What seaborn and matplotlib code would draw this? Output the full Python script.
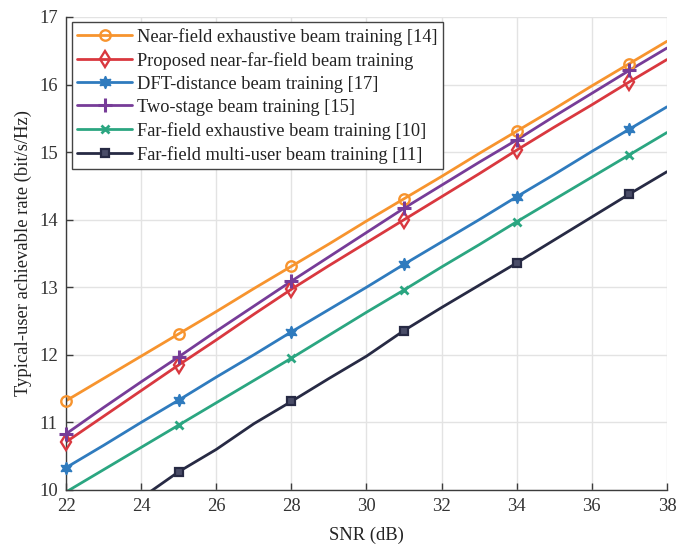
import numpy as np
import pandas as pd
import matplotlib
matplotlib.use("Agg")
import matplotlib.pyplot as plt
from matplotlib.lines import Line2D
import seaborn as sns

snr_db = list(range(22, 39))

near_field_exhaustive = [11.32, 11.65, 11.98, 12.31, 12.64, 12.98, 13.31, 13.64, 13.98,
                         14.31, 14.64, 14.98, 15.31, 15.64, 15.98, 16.31, 16.64]
proposed_near_far = [10.71, 11.09, 11.47, 11.85, 12.22, 12.60, 12.97, 13.32, 13.66,
                     14.00, 14.34, 14.68, 15.03, 15.37, 15.70, 16.04, 16.37]
dft_distance = [10.33, 10.66, 11.00, 11.33, 11.67, 12.00, 12.34, 12.67, 13.00,
                13.34, 13.67, 14.00, 14.34, 14.67, 15.01, 15.34, 15.67]
two_stage = [10.83, 11.22, 11.60, 11.97, 12.35, 12.72, 13.09, 13.45, 13.81,
             14.17, 14.51, 14.85, 15.18, 15.53, 15.87, 16.21, 16.54]
far_field_exhaustive = [9.97, 10.30, 10.63, 10.96, 11.29, 11.62, 11.95, 12.29, 12.63,
                        12.96, 13.30, 13.63, 13.97, 14.30, 14.63, 14.96, 15.29]
far_field_multiuser = [9.15, 9.50, 9.88, 10.27, 10.60, 10.98, 11.31, 11.65, 11.98,
                       12.36, 12.70, 13.03, 13.36, 13.70, 14.04, 14.38, 14.71]

labels = [
    "Near-field exhaustive beam training [14]",
    "Proposed near-far-field beam training",
    "DFT-distance beam training [17]",
    "Two-stage beam training [15]",
    "Far-field exhaustive beam training [10]",
    "Far-field multi-user beam training [11]",
]
series = [near_field_exhaustive, proposed_near_far, dft_distance,
          two_stage, far_field_exhaustive, far_field_multiuser]

colors = ["#F7942E", "#D9383F", "#2F7BBE", "#773C98", "#2BA681", "#272A44"]
styles = [
    dict(marker="o", markerfacecolor="none", markersize=7.5, markeredgewidth=1.7),
    dict(marker="d", markerfacecolor="none", markersize=8, markeredgewidth=1.7),
    dict(marker=(6, 1, 0), markersize=9, markeredgewidth=1.0),
    dict(marker="+", markersize=9.5, markeredgewidth=2.2),
    dict(marker="x", markersize=5.5, markeredgewidth=2.0),
    dict(marker="s", markersize=6, markeredgewidth=1.6, markerfacecolor="#4A4D68"),
]

Y_MIN, Y_MAX = 10, 17
FS = 13.4

sns.set_theme(style="whitegrid")
plt.rcParams["font.family"] = ["Liberation Serif", "DejaVu Serif"]

fig = plt.figure(figsize=(6.89, 5.44), dpi=100)
ax = fig.add_axes([0.0958, 0.0993, 0.8722, 0.8695])

handles = []
for lab, vals, col, st in zip(labels, series, colors, styles):
    df = pd.DataFrame({"SNR": snr_db, "rate": vals})
    # curve, clipped to the axes
    sns.lineplot(data=df, x="SNR", y="rate", ax=ax, color=col, linewidth=2.0,
                 legend=False)
    # markers every 3 dB, drawn unclipped so edge markers stay whole
    mk = df.iloc[::3]
    mk = mk[(mk["rate"] >= Y_MIN) & (mk["rate"] <= Y_MAX)]
    sns.lineplot(data=mk, x="SNR", y="rate", ax=ax, color=col, linestyle="none",
                 markeredgecolor=col, clip_on=False, legend=False, zorder=3, **st)
    handles.append(Line2D([], [], color=col, linewidth=2.0,
                          markeredgecolor=col, **st))

ax.set_xlim(22, 38)
ax.set_ylim(Y_MIN, Y_MAX)
ax.set_xticks(range(22, 39, 2))
ax.set_yticks(range(10, 18))
ax.grid(True, color="#E3E3E3", linewidth=1.0)
for side in ["top", "right"]:
    ax.spines[side].set_visible(False)
for side in ["left", "bottom"]:
    ax.spines[side].set_color("#3C3C3C")
    ax.spines[side].set_linewidth(1.0)
ax.tick_params(direction="in", length=5, width=1.0, color="#3C3C3C",
               labelsize=FS, labelcolor="#333333", left=True, bottom=True, pad=6)
ax.set_xlabel("SNR (dB)", fontsize=FS, color="#222222", labelpad=8)
ax.set_ylabel("Typical-user achievable rate (bit/s/Hz)", fontsize=FS,
              color="#222222", labelpad=5)

leg = ax.legend(handles=handles, labels=labels, loc="upper left", fontsize=13.2,
                frameon=True, fancybox=False, framealpha=1.0, edgecolor="#444444",
                handlelength=3.0, handletextpad=0.25, labelspacing=0.33,
                borderpad=0.3, borderaxespad=0.3)
leg.get_frame().set_linewidth(1.0)
for t in leg.get_texts():
    t.set_color("#222222")

fig.savefig("out.png", dpi=100)
